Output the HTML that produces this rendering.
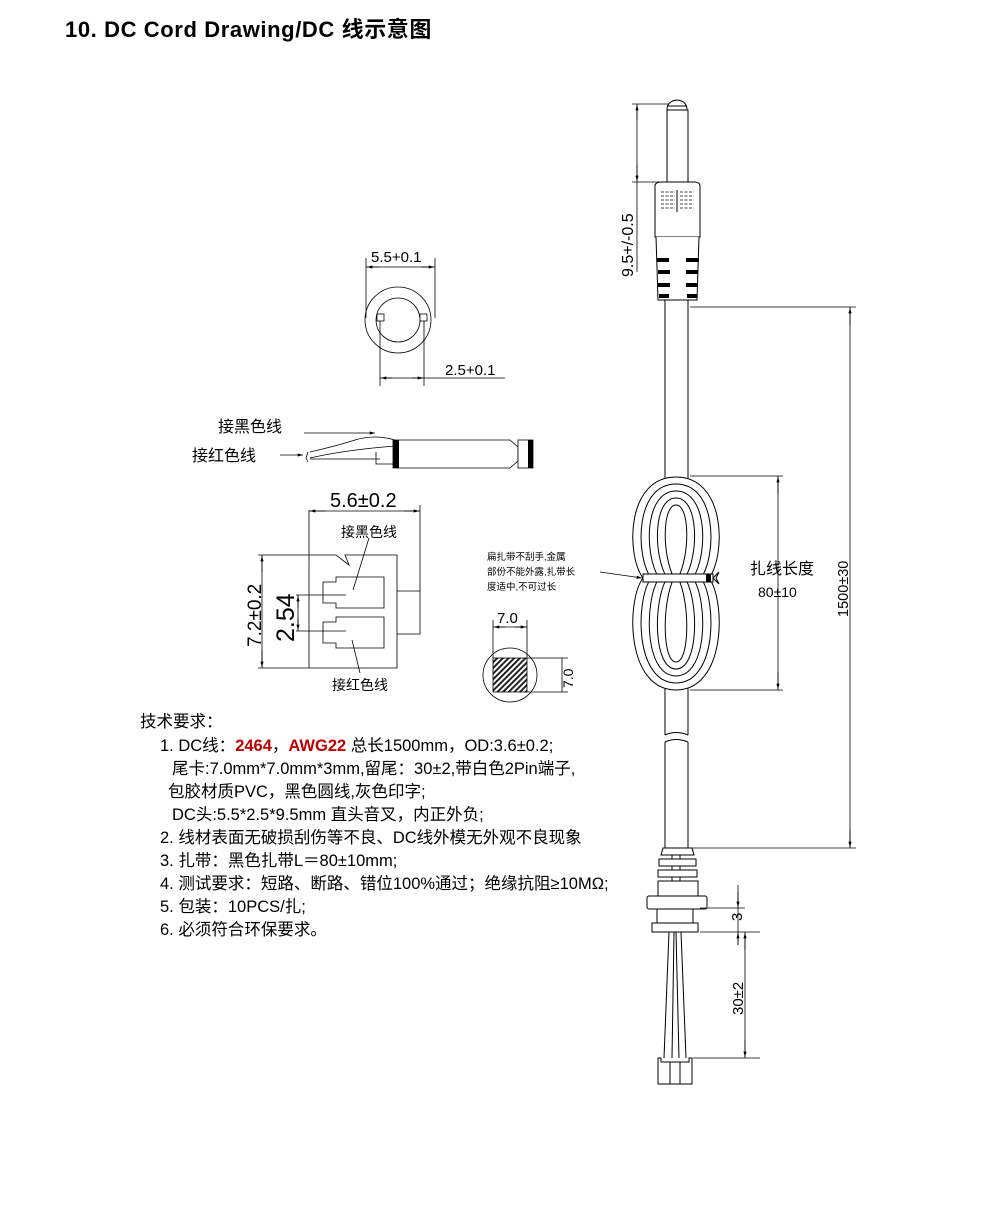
<!DOCTYPE html>
<html><head><meta charset="utf-8"><style>
body{margin:0;background:#fff;}
svg{display:block;font-family:"Liberation Sans","Noto Sans CJK SC",sans-serif;}
</style></head><body>
<svg width="1000" height="1219" viewBox="0 0 1000 1219" xmlns="http://www.w3.org/2000/svg">
<defs>
<marker id="a" viewBox="0 0 10 6" refX="10" refY="3" markerWidth="8" markerHeight="4" orient="auto"><path d="M0,0L10,3L0,6z" fill="#000"/></marker>
<pattern id="h" width="4" height="4" patternUnits="userSpaceOnUse" patternTransform="rotate(45)"><rect width="4" height="4" fill="#fff"/><rect width="2" height="4" fill="#222"/></pattern>
</defs>
<text x="65" y="37" font-size="22" font-weight="bold" letter-spacing="0.6">10. DC Cord Drawing/DC 线示意图</text>

<g stroke="#000" stroke-width="1" fill="none">
<path d="M667,110 Q667,101 677,100 Q687,101 687,110 Z" fill="#fff"/>
<line x1="667" y1="106" x2="687" y2="106"/>
<rect x="667" y="110" width="21" height="72" fill="#fff"/>
<path d="M655,185 Q656,182 662,182 L694,182 Q699,182 700,185 L700,237 L655,237 Z" fill="#fff"/>
<g stroke-dasharray="3,1.5" stroke-width="0.8">
<line x1="661" y1="192" x2="675" y2="192"/><line x1="680" y1="192" x2="694" y2="192"/>
<line x1="661" y1="196" x2="675" y2="196"/><line x1="680" y1="196" x2="694" y2="196"/>
<line x1="661" y1="200" x2="675" y2="200"/><line x1="680" y1="200" x2="694" y2="200"/>
<line x1="661" y1="204" x2="675" y2="204"/><line x1="680" y1="204" x2="694" y2="204"/>
<line x1="661" y1="208" x2="675" y2="208"/><line x1="680" y1="208" x2="694" y2="208"/>
</g>
<line x1="677" y1="190" x2="677" y2="212"/>
<path d="M656,237 L658,300 L697,300 L699,237" fill="#fff"/>
</g>
<g fill="#000">
<rect x="657" y="258" width="12" height="4"/><rect x="686" y="258" width="13" height="4"/>
<rect x="658" y="270" width="12" height="4"/><rect x="686" y="270" width="12" height="4"/>
<rect x="658" y="283" width="12" height="4"/><rect x="686" y="283" width="12" height="4"/>
<rect x="659" y="294" width="10" height="4"/><rect x="687" y="294" width="10" height="4"/>
</g>
<g stroke="#000" stroke-width="1" fill="none">
<line x1="665" y1="300" x2="665" y2="480"/><line x1="688" y1="300" x2="688" y2="480"/>
<line x1="665" y1="686" x2="665" y2="735"/><line x1="688" y1="686" x2="688" y2="735"/>
<path d="M665,735 Q676,730 688,735" />
<path d="M665,742 Q676,737 688,742" />
<line x1="665" y1="742" x2="665" y2="848"/><line x1="688" y1="742" x2="688" y2="848"/>
<path d="M709,578 C726,555 726,477 676,477 C626,477 626,555 643,578 C626,601 626,690 676,690 C726,690 726,601 709,578 Z" fill="#fff"/>
<path d="M701,578 C717,555 717,484 676,484 C635,484 635,555 651,578 C635,601 635,683 676,683 C717,683 717,601 701,578 Z"/>
<path d="M693,578 C708,555 708,491 676,491 C644,491 644,555 659,578 C644,601 644,676 676,676 C708,676 708,601 693,578 Z"/>
<path d="M685,578 C699,555 699,498 676,498 C653,498 653,555 667,578 C653,601 653,669 676,669 C699,669 699,601 685,578 Z"/>
<path d="M678,578 C690,555 690,505 676,505 C662,505 662,555 674,578 C662,601 662,662 676,662 C690,662 690,601 678,578 Z"/>
<rect x="643" y="574" width="70" height="8" fill="#fff"/>
<path d="M713,578 L719,572 L716,578 L719,584 Z"/>
</g>
<rect x="706" y="574" width="5" height="8" fill="#000"/>
<g stroke="#000" stroke-width="1" fill="#fff">
<path d="M663,848 L692,848 L694,855 L672,855 L672,859 L696,859 L696,866 L672,866 L672,870 L697,870 L697,877 L672,877 L672,881 L698,881 L698,896 L658,896 L658,881 L680,881 L680,877 L658,877 L658,870 L680,870 L680,866 L659,866 L659,859 L680,859 L680,855 L661,855 Z"/>
<rect x="647" y="896" width="60" height="13" rx="2"/>
<rect x="657" y="909" width="36" height="14"/>
<rect x="652" y="923" width="46" height="9"/>
<path d="M669,932 L664,1058 M674,932 L672,1058 M676,932 L679,1058 M681,932 L686,1058" fill="none"/>
<path d="M658,1058 L658,1084 L692,1084 L692,1058 L689,1058 L689,1062 L661,1062 L661,1058 Z"/>
<line x1="670" y1="1062" x2="670" y2="1084"/><line x1="680" y1="1062" x2="680" y2="1084"/>
</g>

<g stroke="#000" stroke-width="0.8" fill="none">
<line x1="632" y1="104" x2="668" y2="104"/><line x1="632" y1="182" x2="660" y2="182"/>
<line x1="637" y1="104" x2="637" y2="272" />
<line x1="637" y1="120" x2="637" y2="105" marker-end="url(#a)"/><line x1="637" y1="165" x2="637" y2="181" marker-end="url(#a)"/>
<line x1="690" y1="307" x2="856" y2="307"/><line x1="690" y1="848" x2="856" y2="848"/>
<line x1="850" y1="307" x2="850" y2="848"/>
<line x1="850" y1="325" x2="850" y2="308" marker-end="url(#a)"/><line x1="850" y1="830" x2="850" y2="847" marker-end="url(#a)"/>
<line x1="690" y1="476" x2="783" y2="476"/><line x1="690" y1="690" x2="783" y2="690"/>
<line x1="778" y1="476" x2="778" y2="690"/>
<line x1="778" y1="494" x2="778" y2="477" marker-end="url(#a)"/><line x1="778" y1="672" x2="778" y2="689" marker-end="url(#a)"/>
<line x1="700" y1="908" x2="745" y2="908"/><line x1="700" y1="932" x2="760" y2="932"/>
<line x1="738" y1="885" x2="738" y2="945"/>
<line x1="738" y1="892" x2="738" y2="907" marker-end="url(#a)"/><line x1="738" y1="945" x2="738" y2="933" marker-end="url(#a)"/>
<line x1="693" y1="1058" x2="760" y2="1058"/>
<line x1="745" y1="932" x2="745" y2="1058"/>
<line x1="745" y1="950" x2="745" y2="933" marker-end="url(#a)"/><line x1="745" y1="1040" x2="745" y2="1057" marker-end="url(#a)"/>
<line x1="600" y1="572" x2="642" y2="578" marker-end="url(#a)"/>
</g>
<text transform="translate(633,277) rotate(-90)" font-size="16">9.5+/-0.5</text>
<text transform="translate(848,617) rotate(-90)" font-size="14.5">1500±30</text>
<text x="750" y="574" font-size="16">扎线长度</text>
<text x="758" y="597" font-size="14">80±10</text>
<text transform="translate(742,921) rotate(-90)" font-size="15">3</text>
<text transform="translate(743,1015) rotate(-90)" font-size="15">30±2</text>
<g font-size="9.5">
<text x="487" y="560">扁扎带不刮手,金属</text>
<text x="487" y="575">部份不能外露,扎带长</text>
<text x="487" y="590">度适中,不可过长</text>
</g>

<g stroke="#000" stroke-width="0.8" fill="none">
<circle cx="398" cy="320" r="33"/>
<circle cx="398" cy="320" r="22"/>
<rect x="377" y="314" width="7" height="7" fill="#fff"/>
<rect x="420" y="314" width="7" height="7" fill="#fff"/>
<line x1="366" y1="258" x2="366" y2="318"/><line x1="435" y1="258" x2="435" y2="318"/>
<line x1="366" y1="267" x2="435" y2="267"/>
<line x1="380" y1="267" x2="367" y2="267" marker-end="url(#a)"/><line x1="421" y1="267" x2="434" y2="267" marker-end="url(#a)"/>
<line x1="380" y1="321" x2="380" y2="386"/><line x1="424" y1="321" x2="424" y2="386"/>
<line x1="380" y1="378" x2="505" y2="378"/>
<line x1="392" y1="378" x2="381" y2="378" marker-end="url(#a)"/><line x1="412" y1="378" x2="423" y2="378" marker-end="url(#a)"/>
</g>
<text x="371" y="262" font-size="15">5.5+0.1</text>
<text x="445" y="375" font-size="15">2.5+0.1</text>

<text x="218" y="432" font-size="16">接黑色线</text>
<text x="192" y="461" font-size="16">接红色线</text>
<g stroke="#000" stroke-width="0.8" fill="none">
<line x1="304" y1="433" x2="375" y2="433" marker-end="url(#a)"/>
<line x1="280" y1="455" x2="303" y2="455" marker-end="url(#a)"/>
<path d="M310,452 Q340,445 355,440 Q375,434 395,440"/>
<path d="M310,458 Q345,450 395,446"/>
<path d="M308,452 L306,458 L308,462"/>
<path d="M310,459 L380,459 M376,452 L376,464 L393,464"/>
<path d="M393,440 L510,440 L518,447 L518,461 L510,468 L393,468 Z" fill="#fff"/>
<rect x="518" y="440" width="15" height="28" fill="#fff"/>
</g>
<rect x="393" y="440" width="6" height="28" fill="#000"/>
<rect x="528" y="440" width="5" height="28" fill="#000"/>

<g stroke="#000" stroke-width="0.8" fill="none">
<path d="M309,510 L309,668 L397,668 L397,555 L345,555 L349,565 L336,555 L309,555"/>
<polyline points="397,591 420,591 420,634 397,634"/>
<line x1="420" y1="505" x2="420" y2="591"/>
<line x1="309" y1="511" x2="420" y2="511"/>
<line x1="325" y1="511" x2="310" y2="511" marker-end="url(#a)"/><line x1="404" y1="511" x2="419" y2="511" marker-end="url(#a)"/>
<line x1="258" y1="555" x2="309" y2="555"/><line x1="258" y1="668" x2="309" y2="668"/>
<line x1="262" y1="555" x2="262" y2="668"/>
<line x1="262" y1="572" x2="262" y2="556" marker-end="url(#a)"/><line x1="262" y1="650" x2="262" y2="667" marker-end="url(#a)"/>
<path d="M323,582 L336,582 L336,577 L384,577 L384,608 L336,608 L336,603 L323,603 Z"/>
<path d="M323,622 L336,622 L336,617 L384,617 L384,648 L336,648 L336,643 L323,643 Z"/>
<line x1="296" y1="595" x2="346" y2="595"/><line x1="296" y1="631" x2="346" y2="631"/>
<line x1="298" y1="595" x2="298" y2="631"/>
<line x1="298" y1="608" x2="298" y2="596" marker-end="url(#a)"/><line x1="298" y1="618" x2="298" y2="630" marker-end="url(#a)"/>
<line x1="369" y1="538" x2="353" y2="590"/>
<line x1="352" y1="640" x2="360" y2="673"/>
</g>
<text x="330" y="507" font-size="20">5.6±0.2</text>
<text x="341" y="537" font-size="14">接黑色线</text>
<text x="332" y="690" font-size="14">接红色线</text>
<text transform="translate(261,647) rotate(-90)" font-size="19">7.2±0.2</text>
<text transform="translate(294,642) rotate(-90)" font-size="25">2.54</text>

<g stroke="#000" stroke-width="0.8" fill="none">
<circle cx="510" cy="675" r="27"/>
<rect x="493" y="658" width="34" height="34" fill="url(#h)"/>
<line x1="493" y1="620" x2="493" y2="658"/><line x1="527" y1="620" x2="527" y2="658"/>
<line x1="493" y1="627" x2="527" y2="627"/>
<line x1="505" y1="627" x2="494" y2="627" marker-end="url(#a)"/><line x1="515" y1="627" x2="526" y2="627" marker-end="url(#a)"/>
<line x1="527" y1="658" x2="568" y2="658"/><line x1="527" y1="692" x2="568" y2="692"/>
<line x1="562" y1="658" x2="562" y2="692"/>
</g>
<text x="497" y="623" font-size="15">7.0</text>
<text transform="translate(573,688) rotate(-90)" font-size="14">7.0</text>

<g font-size="16.5">
<text x="140" y="727">技术要求：</text>
<text x="160" y="751">1. DC线：<tspan fill="#c00000" font-weight="bold">2464</tspan>，<tspan fill="#c00000" font-weight="bold">AWG22</tspan> 总长1500mm，OD:3.6±0.2;</text>
<text x="172" y="774">尾卡:7.0mm*7.0mm*3mm,留尾：30±2,带白色2Pin端子,</text>
<text x="168" y="797">包胶材质PVC，黑色圆线,灰色印字;</text>
<text x="172" y="820">DC头:5.5*2.5*9.5mm 直头音叉，内正外负;</text>
<text x="160" y="843">2. 线材表面无破损刮伤等不良、DC线外模无外观不良现象</text>
<text x="160" y="866">3. 扎带：黑色扎带L＝80±10mm;</text>
<text x="160" y="889">4. 测试要求：短路、断路、错位100%通过；绝缘抗阻≥10MΩ;</text>
<text x="160" y="912">5. 包装：10PCS/扎;</text>
<text x="160" y="935">6. 必须符合环保要求。</text>
</g>
</svg>
</body></html>
